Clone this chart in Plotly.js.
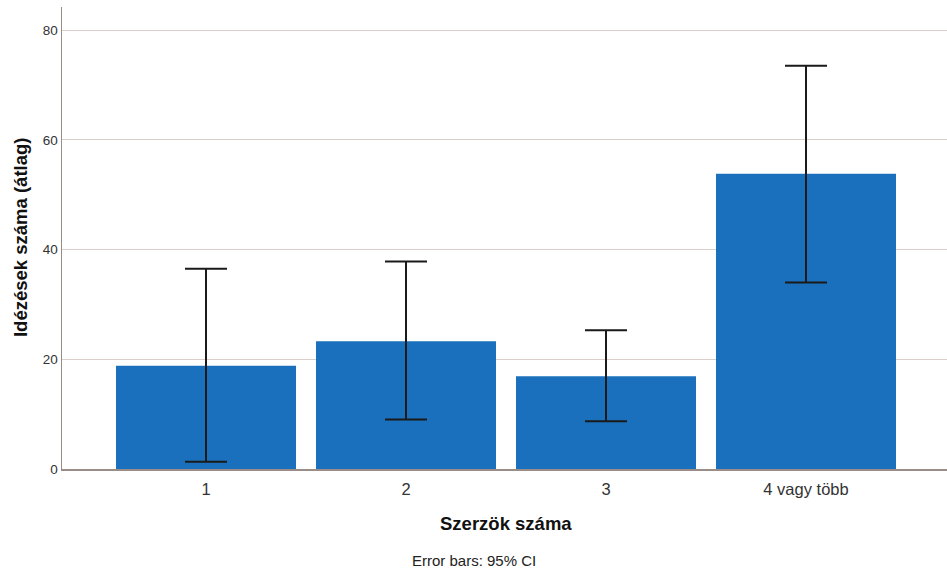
<!DOCTYPE html>
<html>
<head>
<meta charset="utf-8">
<script src="https://cdn.plot.ly/plotly-3.0.1.min.js"></script>
<style>html,body{margin:0;padding:0;background:#fff;}#chart{width:947px;height:570px;}</style>
</head>
<body>
<div id="chart"></div>
<script>
const categories = ["1", "2", "3", "4 vagy több"];
const means = [18.8, 23.3, 16.9, 53.8];
const ciLow = [1.3, 9.0, 8.7, 34.0];
const ciHigh = [36.5, 37.8, 25.3, 73.5];
const yTicks = [0, 20, 40, 60, 80];

const plus = ciHigh.map((h, i) => h - means[i]);
const minus = means.map((m, i) => m - ciLow[i]);

const trace = {
  type: 'bar',
  x: categories,
  y: means,
  width: 0.9,
  marker: {color: '#1a70bd', line: {width: 0}},
  error_y: {
    type: 'data', symmetric: false, array: plus, arrayminus: minus,
    color: '#1a1a1a', thickness: 2, width: 21, visible: true
  },
  hoverinfo: 'skip'
};

const font = 'Liberation Sans, Arial, sans-serif';
const layout = {
  width: 947, height: 570,
  margin: {l: 62, r: 0, t: 7, b: 101},
  paper_bgcolor: '#ffffff', plot_bgcolor: '#ffffff',
  showlegend: false,
  font: {family: font, color: '#333333', size: 14},
  xaxis: {
    type: 'category', range: [-0.72, 3.705],
    showline: true, linecolor: '#9a8d88', linewidth: 1.5,
    showgrid: false, zeroline: false, ticks: '',
    ticklabelstandoff: 5,
    tickfont: {family: font, size: 16.5, color: '#333333'},
    fixedrange: true
  },
  yaxis: {
    range: [0, 84.2], tickvals: yTicks, ticktext: yTicks.map(String),
    showline: true, linecolor: '#9a8d88', linewidth: 1.5,
    showgrid: true, gridcolor: '#dccfca', gridwidth: 1,
    zeroline: false, ticks: '', ticklen: 0,
    tickfont: {family: font, size: 13.5, color: '#333333'},
    fixedrange: true
  },
  annotations: [
    {text: '<b>Szerzök száma</b>', xref: 'paper', yref: 'paper', x: 0.502, y: -0.117,
     xanchor: 'center', yanchor: 'middle', showarrow: false,
     font: {family: font, size: 18.5, color: '#111111'}},
    {text: '<b>Idézések száma (átlag)</b>', xref: 'paper', yref: 'paper', x: -0.0475, y: 0.502,
     xanchor: 'center', yanchor: 'middle', showarrow: false, textangle: -90,
     font: {family: font, size: 18.5, color: '#111111'}},
    {text: 'Error bars: 95% CI', xref: 'paper', yref: 'paper', x: 0.4655, y: -0.197,
     xanchor: 'center', yanchor: 'middle', showarrow: false,
     font: {family: font, size: 15, color: '#222222'}}
  ]
};

Plotly.newPlot('chart', [trace], layout, {displayModeBar: false, staticPlot: true});
</script>
</body>
</html>
